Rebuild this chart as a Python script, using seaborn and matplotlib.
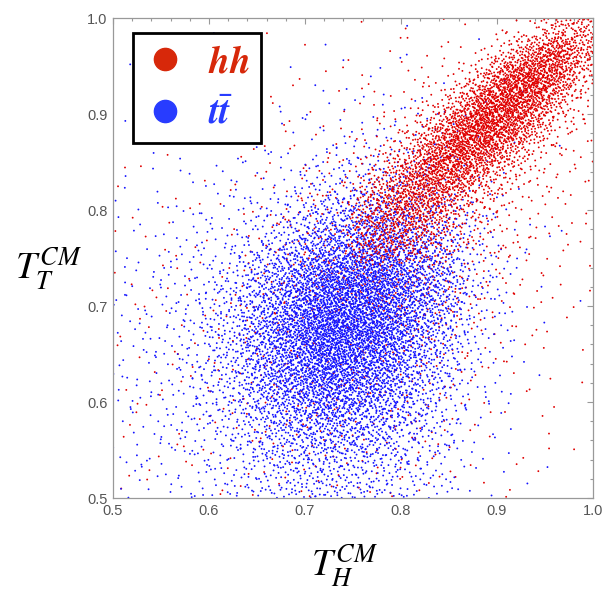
import numpy as np
import pandas as pd
import matplotlib
matplotlib.use("Agg")
import matplotlib.pyplot as plt
import seaborn as sns
from matplotlib.ticker import MultipleLocator
from matplotlib.lines import Line2D
from matplotlib.mathtext import MathTextParser

sns.set_theme(style="white")
plt.rcParams['font.family'] = ['Liberation Sans', 'DejaVu Sans']
plt.rcParams['mathtext.fontset'] = 'stix'

# point counts per 0.05 x 0.05 cell
# rows: y bins from top (0.95-1.00) down to bottom (0.50-0.55)
# cols: x bins 0.50-0.55 ... 0.95-1.00
cell_x = [0.50, 0.55, 0.60, 0.65, 0.70, 0.75, 0.80, 0.85, 0.90, 0.95]
cell_y = [0.95, 0.90, 0.85, 0.80, 0.75, 0.70, 0.65, 0.60, 0.55, 0.50]

tt_counts = [
    [0, 0, 1, 1, 1, 1, 1, 1, 0, 0],
    [1, 1, 2, 3, 4, 5, 5, 2, 1, 0],
    [2, 3, 4, 7, 14, 22, 18, 7, 1, 0],
    [5, 7, 12, 25, 55, 90, 80, 20, 3, 0],
    [8, 14, 30, 85, 240, 340, 210, 45, 5, 1],
    [14, 28, 80, 280, 600, 620, 320, 55, 5, 1],
    [16, 35, 110, 420, 760, 630, 240, 40, 4, 0],
    [16, 35, 105, 350, 560, 410, 150, 26, 3, 0],
    [14, 28, 70, 190, 270, 210, 85, 16, 2, 0],
    [10, 20, 40, 85, 110, 85, 40, 10, 1, 0],
]

# hh background on the coarse grid (the upper-right quarter is in hh_band)
hh_counts = [
    [0, 0, 1, 1, 2, 0, 0, 0, 0, 0],
    [1, 1, 2, 3, 5, 0, 0, 0, 0, 0],
    [2, 2, 3, 5, 10, 0, 0, 0, 0, 0],
    [3, 3, 5, 10, 25, 0, 0, 0, 0, 0],
    [4, 4, 7, 18, 45, 0, 0, 0, 0, 0],
    [5, 5, 10, 25, 55, 95, 80, 35, 14, 6],
    [5, 6, 12, 25, 40, 40, 40, 18, 7, 3],
    [5, 6, 10, 20, 30, 30, 22, 11, 5, 2],
    [5, 5, 8, 13, 18, 18, 13, 7, 3, 2],
    [4, 4, 6, 8, 10, 10, 8, 5, 3, 1],
]

# hh band, counts per 0.025 x 0.025 cell for x and y in 0.75-1.00
band_x = [0.75, 0.775, 0.80, 0.825, 0.85, 0.875, 0.90, 0.925, 0.95, 0.975]
band_y = [0.975, 0.95, 0.925, 0.90, 0.875, 0.85, 0.825, 0.80, 0.775, 0.75]
hh_band = [
    [1, 1, 1, 1, 1, 2, 3, 8, 45, 55],
    [1, 1, 2, 2, 3, 6, 35, 110, 170, 75],
    [2, 2, 3, 4, 10, 55, 175, 220, 140, 30],
    [2, 3, 5, 12, 55, 185, 220, 160, 50, 12],
    [3, 6, 15, 55, 165, 220, 180, 70, 20, 6],
    [5, 12, 42, 140, 195, 160, 70, 25, 8, 4],
    [15, 42, 105, 160, 125, 60, 25, 10, 5, 3],
    [35, 80, 120, 100, 50, 25, 12, 6, 3, 2],
    [50, 80, 80, 50, 25, 12, 6, 4, 3, 2],
    [50, 55, 45, 25, 12, 8, 6, 4, 3, 2],
]

ticks = [0.5, 0.6, 0.7, 0.8, 0.9, 1.0]
tick_labels = ["0.5", "0.6", "0.7", "0.8", "0.9", "1.0"]

RED = "#E00000"
BLUE = "#1414FF"
LEG_RED = "#D7280A"
LEG_BLUE = "#283CFF"


def halton(idx, base):
    out = np.zeros(len(idx))
    f = 1.0 / base
    i = idx.astype(float)
    while np.any(i > 0):
        out += f * (i % base)
        i = np.floor(i / base)
        f /= base
    return out


def tri(u):
    # triangular spread over [-1, 1] so neighbouring cells blend smoothly
    return np.where(u < 0.5, np.sqrt(2 * u) - 1, 1 - np.sqrt(2 * (1 - u)))


def reflect(v):
    v = np.where(v < 0.5, 1.0 - v, v)
    return np.where(v > 1.0, 2.0 - v, v)


def cell_points(counts, xs0, ys0, w, start):
    xs, ys = [], []
    n0 = start
    for r, row in enumerate(counts):
        for c, k in enumerate(row):
            idx = np.arange(n0 + 1, n0 + k + 1)
            xs.append(xs0[c] + w / 2 + w * tri(halton(idx, 2)))
            ys.append(ys0[r] + w / 2 + w * tri(halton(idx, 3)))
            n0 += k
    return reflect(np.concatenate(xs)), reflect(np.concatenate(ys))


hx1, hy1 = cell_points(hh_counts, cell_x, cell_y, 0.05, 0)
hx2, hy2 = cell_points(hh_band, band_x, band_y, 0.025, 3001)
hx, hy = np.concatenate([hx1, hx2]), np.concatenate([hy1, hy2])
tx, ty = cell_points(tt_counts, cell_x, cell_y, 0.05, 17011)

df = pd.concat([
    pd.DataFrame({"TH": hx, "TT": hy, "proc": "hh",
                  "order": np.arange(len(hx)) / len(hx)}),
    pd.DataFrame({"TH": tx, "TT": ty, "proc": "tt",
                  "order": np.arange(len(tx)) / len(tx)}),
]).sort_values("order")

fig = plt.figure(figsize=(6.13, 6.01), dpi=100)
ax = fig.add_axes([113 / 613, 103 / 601, 480 / 613, 480 / 601])

sns.scatterplot(data=df, x="TH", y="TT", hue="proc",
                palette={"hh": RED, "tt": BLUE}, s=1.8, linewidth=0,
                legend=False, ax=ax, rasterized=True)

ax.set_xlim(0.5, 1.0)
ax.set_ylim(0.5, 1.0)
ax.set_xticks(ticks)
ax.set_xticklabels(tick_labels)
ax.set_yticks(ticks)
ax.set_yticklabels(tick_labels)
ax.xaxis.set_minor_locator(MultipleLocator(0.02))
ax.yaxis.set_minor_locator(MultipleLocator(0.02))
ax.tick_params(which="both", direction="in", top=True, right=True,
               color="#999999", width=0.8)
ax.tick_params(which="major", length=4.5, labelsize=10.5,
               labelcolor="#555555", pad=4)
ax.tick_params(which="minor", length=2.5)
for sp in ax.spines.values():
    sp.set_color("#999999")
    sp.set_linewidth(0.9)

ax.set_xlabel(r"$T_H^{CM}$", fontsize=27, color="black", va="center")
ax.set_ylabel(r"$T_T^{CM}$", fontsize=27, color="black", rotation=0,
              va="center", ha="center")
ax.yaxis.set_label_coords(-0.135, 0.48)
ax.xaxis.set_label_coords(0.483, -0.14)

# bold italic if this matplotlib knows it
try:
    MathTextParser("path").parse(r"$\mathbfit{h}$")
    BFIT = r"\mathbfit"
except Exception:
    BFIT = r"\mathit"

handles = [
    Line2D([], [], marker="o", linestyle="", markersize=16,
           markerfacecolor=LEG_RED, markeredgecolor=LEG_RED),
    Line2D([], [], marker="o", linestyle="", markersize=16,
           markerfacecolor=LEG_BLUE, markeredgecolor=LEG_BLUE),
]
labels = ["$" + BFIT + "{hh}$",
          "$" + BFIT + "{t}" + r"\bar{" + BFIT + "{t}}$"]
leg = ax.legend(handles, labels, loc="upper left",
                bbox_to_anchor=(0.042, 0.969), frameon=True, fancybox=False,
                prop={"size": 27}, handletextpad=0.6, borderpad=0.3,
                labelspacing=0.42, handlelength=1.1, borderaxespad=0)
leg.get_frame().set_edgecolor("black")
leg.get_frame().set_linewidth(2)
leg.get_frame().set_alpha(1)
for txt, col in zip(leg.get_texts(), [LEG_RED, LEG_BLUE]):
    txt.set_color(col)

fig.savefig("out.png", dpi=100)
